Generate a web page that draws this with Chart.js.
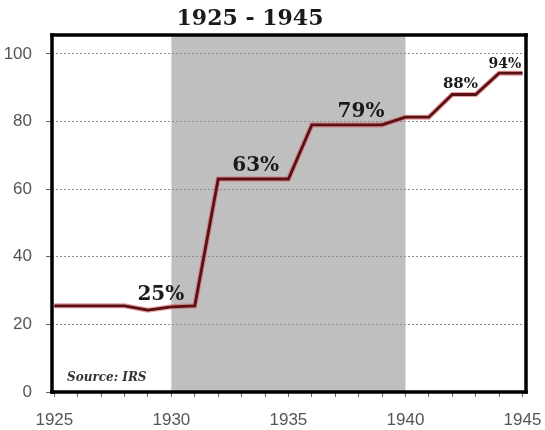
<!DOCTYPE html>
<html lang="en">
<head>
<meta charset="UTF-8">
<title>1925 - 1945</title>
<script src="https://cdn.jsdelivr.net/npm/chart.js"></script>
<style>
    body { margin: 0; background: #ffffff; }
    #wrap { width: 545px; height: 430px; }
</style>
</head>
<body>
<div id="wrap"><canvas id="grafico"></canvas></div>
<script>
    // datos
    const years = [1925, 1926, 1927, 1928, 1929, 1930, 1931, 1932, 1933, 1934, 1935,
                   1936, 1937, 1938, 1939, 1940, 1941, 1942, 1943, 1944, 1945];
    const values = [25.5, 25.5, 25.5, 25.5, 24.2, 25.2, 25.5, 63, 63, 63, 63,
                    79, 79, 79, 79, 81.3, 81.3, 88, 88, 94.3, 94.3];
    const shadedFrom = 1930;
    const shadedTo = 1940;
    const yTicks = [0, 20, 40, 60, 80, 100];
    const labelYears = [1929.55, 1933.6, 1938.1, 1942.35, 1944.25];
    const labelValues = [25, 63, 79, 88, 94];
    const labelTexts = ['25%', '63%', '79%', '88%', '94%'];
    const labelSizes = [20, 20, 20, 15, 14];

    const points = years.map((y, i) => ({ x: y, y: values[i] }));

    // banda gris + marco + textos
    const extras = {
        id: 'extras',
        beforeDraw(chart) {
            const { ctx, chartArea, scales } = chart;
            const x1 = scales.x.getPixelForValue(shadedFrom);
            const x2 = scales.x.getPixelForValue(shadedTo);
            ctx.save();
            ctx.fillStyle = '#bfbfbf';
            ctx.fillRect(x1, chartArea.top, x2 - x1, chartArea.bottom - chartArea.top);
            ctx.restore();
        },
        afterDraw(chart) {
            const { ctx, chartArea, scales } = chart;
            const { left, right, top, bottom } = chartArea;
            const w = 3.5;
            ctx.save();
            ctx.fillStyle = '#000000';
            ctx.fillRect(left - w / 2, top - w / 2, right - left + w, w);
            ctx.fillRect(left - w / 2, bottom - w / 2, right - left + w, w);
            ctx.fillRect(left - w / 2, top - w / 2, w, bottom - top + w);
            ctx.fillRect(right - w / 2, top - w / 2, w, bottom - top + w);

            ctx.fillStyle = '#1a1a1a';
            ctx.textAlign = 'center';
            ctx.textBaseline = 'middle';
            ctx.font = 'bold 22px "DejaVu Serif"';
            ctx.fillText('1925 - 1945', 250, 19);
            labelTexts.forEach((t, i) => {
                ctx.font = 'bold ' + labelSizes[i] + 'px "DejaVu Serif"';
                const px = scales.x.getPixelForValue(labelYears[i]);
                const py = scales.y.getPixelForValue(labelValues[i]) - (labelSizes[i] * 0.55 + 2);
                ctx.fillText(t, px, py);
            });
            ctx.font = 'italic bold 12px "DejaVu Serif"';
            ctx.fillStyle = '#333333';
            ctx.textAlign = 'left';
            ctx.fillText('Source: IRS', left + 15, bottom - 14);
            ctx.restore();
        }
    };

    const ctx = document.getElementById('grafico').getContext('2d');
    const myChart = new Chart(ctx, {
        type: 'line',
        data: {
            datasets: [{
                data: points,
                borderColor: '#5a1015',
                borderWidth: 2.8,
                pointRadius: 0,
                tension: 0,
                order: 1
            }, {
                data: points,
                borderColor: 'rgba(215, 95, 95, 0.6)',
                borderWidth: 5,
                pointRadius: 0,
                tension: 0,
                order: 2
            }]
        },
        options: {
            responsive: true,
            maintainAspectRatio: false,
            animation: false,
            layout: { padding: { right: 19, left: 0, top: 35, bottom: 0 } },
            plugins: {
                legend: { display: false },
                tooltip: { enabled: false },
                title: { display: false }
            },
            scales: {
                x: {
                    type: 'linear',
                    min: 1924.9,
                    max: 1945.15,
                    afterFit: s => { s.height = 38; s.paddingLeft = 0; s.paddingRight = 0; },
                    ticks: {
                        stepSize: 1,
                        includeBounds: false,
                        autoSkip: false,
                        maxRotation: 0,
                        padding: 13,
                        color: '#555555',
                        font: { family: '"Liberation Sans"', size: 17 },
                        callback: v => (v % 5 === 0 ? String(v) : '')
                    },
                    grid: {
                        drawOnChartArea: false,
                        drawTicks: true,
                        tickLength: 5,
                        tickColor: '#666666'
                    },
                    border: { display: false }
                },
                y: {
                    min: 0,
                    max: 105.6,
                    afterFit: s => { s.width = 52; s.paddingTop = 0; s.paddingBottom = 0; },
                    afterBuildTicks: s => { s.ticks = yTicks.map(v => ({ value: v })); },
                    ticks: {
                        padding: 14,
                        color: '#555555',
                        font: { family: '"Liberation Sans"', size: 17 }
                    },
                    grid: {
                        color: '#8c8c8c',
                        lineWidth: 1,
                        tickBorderDash: [],
                        tickColor: '#666666',
                        tickLength: 6
                    },
                    border: { display: false, dash: [2, 2] }
                }
            }
        },
        plugins: [extras]
    });
</script>
</body>
</html>
